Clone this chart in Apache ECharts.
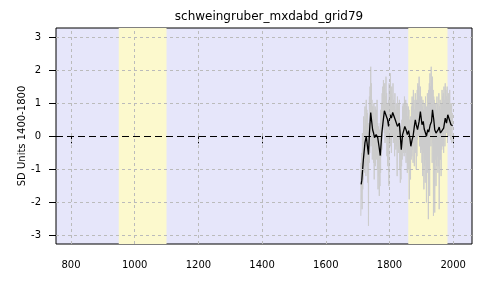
<!DOCTYPE html>
<html>
<head>
<meta charset="utf-8">
<script src="https://cdn.jsdelivr.net/npm/echarts@6/dist/echarts.min.js"></script>
<style>html,body{margin:0;padding:0;background:#fff}#c{width:500px;height:300px}</style>
</head>
<body>
<div id="c"></div>
<script>
// ---- data ----
const chartTitle = "schweingruber_mxdabd_grid79";
const yAxisTitle = "SD Units 1400-1800";
const xTicks = [800, 1000, 1200, 1400, 1600, 1800, 2000];
const yTicks = [-3, -2, -1, 0, 1, 2, 3];
const highlightPeriods = [[950, 1100], [1859, 1982]];
const firstYear = 1710;
// annual values 1710-1998
const annualValues = [
  -2.4, -0.8, -1.9, -0.5, -2.2, 0.1, -1.6, -0.2, -1.3, 0.6,
  -1.1, 0.3, -0.9, 0.9, -0.8, 0.5, -1.2, 1.1, -0.6, 0.8,
  -0.9, 0.7, -1.4, 0.4, -2.7, 0.2, -0.8, 1.2, -0.5, 1.5,
  0.1, 2.1, -0.3, 1.6, 0.0, 1.1, -0.7, 0.9, -0.4, 0.6,
  -0.8, 1.0, -1.3, 0.5, -0.6, 0.9, -0.9, 0.7, -0.5, 0.8,
  -0.7, 1.1, -1.0, 0.4, -1.6, 0.3, -1.2, 0.1, -1.8, 0.2,
  -1.5, 0.4, -1.1, 0.8, -0.6, 1.0, -0.4, 1.3, 0.0, 1.5,
  0.2, 1.7, 0.3, 1.4, 0.1, 1.6, -0.2, 1.2, 0.4, 1.8,
  0.0, 1.3, -0.6, 1.0, -0.9, 0.8, -0.4, 1.1, -1.5, 1.6,
  0.2, 1.4, -0.3, 1.9, 0.1, 1.2, -0.5, 1.5, 0.3, 1.0,
  0.0, 1.6, -0.2, 1.1, 0.4, 0.9, -0.6, 1.3, -0.1, 0.8,
  -0.4, 1.0, -0.3, 0.7, -1.2, 1.2, 0.0, 1.0, -0.5, 0.9,
  -0.2, 1.1, -1.0, 0.3, -1.4, 0.2, -1.3, -0.1, -0.9, 0.5,
  -0.7, 0.9, -0.3, 1.0, -0.5, 0.8, -0.6, 1.2, -0.4, 0.7,
  -0.5, 1.1, -0.8, 0.9, -0.3, 1.0, -1.1, 0.6, -0.4, 0.9,
  -1.0, 0.8, -1.9, 0.5, -0.9, 0.3, -1.3, 0.6, -0.7, 0.9,
  -0.6, 1.2, -0.4, 1.0, -0.8, 1.4, -0.2, 1.1, -0.9, 0.8,
  -0.3, 1.3, -0.5, 0.9, -1.0, 1.1, -0.6, 1.4, -0.1, 1.6,
  0.2, 1.5, 0.0, 1.8, -0.3, 1.2, 0.3, 1.5, -0.5, 1.0,
  -0.4, 1.2, -0.8, 0.9, -1.2, 1.1, -0.5, 0.8, -1.6, 1.0,
  -0.9, 0.7, -1.4, 1.2, -0.7, 0.6, -2.0, 0.9, -0.6, 1.3,
  -1.1, 0.8, -2.5, 1.4, -0.4, 1.6, -1.8, 1.9, 0.0, 1.5,
  -0.3, 2.1, 0.1, 1.7, -0.8, 1.8, -0.2, 1.4, -2.4, 1.2,
  -1.0, 1.1, -2.3, 0.9, -0.7, 1.0, -1.5, 0.8, -0.9, 1.2,
  -0.6, 1.0, -1.1, 0.7, -0.9, 1.3, -2.2, 0.9, -0.5, 1.1,
  -0.7, 0.8, -1.2, 1.0, -0.4, 1.4, -0.3, 1.2, 0.1, 1.3,
  -0.5, 1.5, 0.2, 1.1, -0.3, 1.6, 0.0, 1.4, 0.3, 1.2,
  0.1, 1.5, -0.2, 1.1, 0.4, 1.3, 0.0, 1.2, 0.2, 1.4,
  0.0, 1.0, -0.1, 0.8, 0.2, 1.0, -0.2, 0.7, 0.3
];
// smoothed series: years and values
const smoothYears = [1711,1713,1718,1723,1727,1731,1734,1737,1741,1744,1747,1750,1753,1758,1763,1767,1771,1776,1780,1784,1790,1794,1797,1802,1806,1810,1818,1825,1831,1834,1837,1841,1844,1848,1852,1856,1860,1864,1867,1871,1874,1878,1881,1884,1888,1893,1897,1902,1906,1909,1913,1916,1920,1923,1928,1932,1935,1939,1942,1946,1949,1953,1956,1960,1965,1970,1975,1979,1983,1986,1989,1993,1998];
const smoothValues = [-1.45,-1.33,-0.7,-0.19,0.0,-0.05,-0.55,0.1,0.72,0.45,0.2,0.1,-0.04,0.05,-0.04,-0.3,-0.58,0.1,0.45,0.77,0.72,0.5,0.3,0.65,0.55,0.72,0.5,0.3,0.4,0.0,-0.4,0.05,0.15,0.3,0.2,0.05,0.17,-0.05,-0.3,-0.1,0.0,0.3,0.5,0.35,0.2,0.45,0.75,0.35,0.45,0.22,0.1,0.0,0.2,0.13,0.35,0.45,0.8,0.5,0.2,0.1,0.05,0.2,0.28,0.1,0.1,0.25,0.55,0.4,0.65,0.62,0.6,0.35,0.32];

// ---- build ----
const annualData = annualValues.map((v, i) => [firstYear + i, v]);
const smoothData = smoothYears.map((y, i) => [y, smoothValues[i]]);
const font = "DejaVu Sans";

const gridLinesX = xTicks.map(v => ({xAxis: v}));
const gridLinesY = yTicks.filter(v => v !== 0).map(v => ({yAxis: v}));

const chart = echarts.init(document.getElementById('c'), null, {renderer: 'canvas'});
chart.setOption({
  animation: false,
  backgroundColor: '#ffffff',
  title: {
    text: chartTitle, left: 264, top: 6, textAlign: 'center',
    textStyle: {fontFamily: font, fontSize: 12, fontWeight: 'normal', color: '#000'}
  },
  grid: {
    left: 56, right: 28, top: 28, bottom: 56,
    show: true, backgroundColor: '#E6E6FA', borderColor: '#000', borderWidth: 1
  },
  xAxis: {
    type: 'value', min: 753, max: 2059,
    axisLine: {show: false},
    splitLine: {show: false},
    axisTick: {show: true, inside: false, length: 7, customValues: xTicks, lineStyle: {color: '#000'}},
    axisLabel: {customValues: xTicks, margin: 16, fontFamily: font, fontSize: 10, color: '#000',
      formatter: v => String(v)}
  },
  yAxis: {
    type: 'value', min: -3.25, max: 3.27,
    name: yAxisTitle, nameLocation: 'middle', nameGap: 29, nameRotate: 90,
    nameMoveOverlap: false,
    nameTextStyle: {fontFamily: font, fontSize: 10, color: '#000'},
    axisLine: {show: false},
    splitLine: {show: false},
    axisTick: {show: true, inside: false, length: 7, customValues: yTicks, lineStyle: {color: '#000'}},
    axisLabel: {customValues: yTicks, margin: 15, fontFamily: font, fontSize: 10, color: '#000',
      formatter: v => String(v)}
  },
  series: [
    {
      type: 'line', data: [], silent: true, z: 1,
      markArea: {
        silent: true,
        itemStyle: {color: '#FCF9CD'},
        data: highlightPeriods.map(p => [{xAxis: p[0], yAxis: -3.25}, {xAxis: p[1], yAxis: 3.27}])
      }
    },
    {
      type: 'line', data: [], silent: true, z: 2,
      markLine: {
        silent: true, symbol: 'none', label: {show: false},
        lineStyle: {color: '#BBBBBB', type: [3, 3], width: 1},
        data: gridLinesX.concat(gridLinesY)
      }
    },
    {
      type: 'line', data: annualData, showSymbol: false, silent: true, z: 3,
      lineStyle: {color: '#CCCCCC', width: 1}
    },
    {
      type: 'line', data: smoothData, showSymbol: false, silent: true, z: 4,
      lineStyle: {color: '#000', width: 1.3},
      markLine: {
        silent: true, symbol: 'none', label: {show: false},
        lineStyle: {color: '#000', type: [7, 4], width: 1},
        data: [{yAxis: 0}]
      }
    }
  ]
});
</script>
</body>
</html>
